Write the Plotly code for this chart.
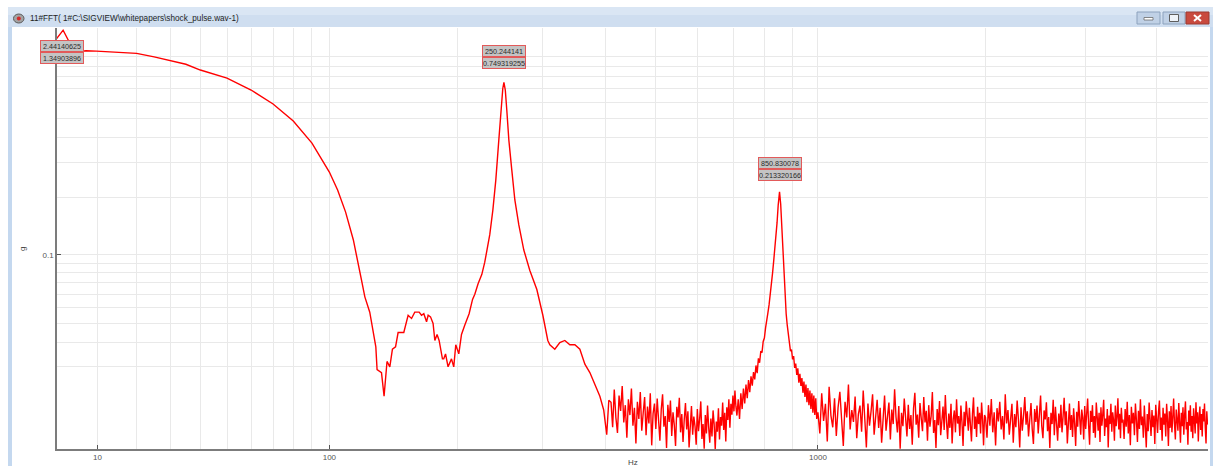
import numpy as np
import plotly.graph_objects as go

# ---------------- data ----------------
# FFT magnitude in g versus frequency in Hz
FREQ_LOW = [0, 2.44140625, 4.88, 7.32, 9.77,
            15, 20, 25, 30, 35, 40,
            50, 60, 70, 80, 90, 100,
            105, 110, 115,
            120.4, 122.7, 126.1, 128.4, 130.4, 131.3,
            134.5, 136.4, 138.6, 140.7, 142.7, 145.1,
            147.1, 149.7, 151.6, 155.1, 157.9, 160.6,
            164.3, 166.3, 168.3, 170.7, 172.1, 174.2,
            176.5, 178.1, 180.1, 182.0, 185.1, 186.3,
            188.0, 190.4, 193.7, 195.9, 197.9, 200.9,
            203.6, 206.9, 211.4, 215.0, 217.4, 220.9]
AMP_LOW = [1.13, 1.34903896, 1.05, 1.07, 1.066,
           1.052, 1.04, 1.0, 0.96, 0.92, 0.862,
           0.787, 0.688, 0.587, 0.484, 0.376, 0.269,
           0.218, 0.168, 0.12,
           0.0725, 0.058, 0.047, 0.036, 0.028, 0.019,
           0.018, 0.011, 0.022, 0.020, 0.027, 0.028,
           0.035, 0.035, 0.035, 0.045, 0.043, 0.047,
           0.047, 0.045, 0.046, 0.041, 0.045, 0.044,
           0.040, 0.031, 0.034, 0.031, 0.023, 0.023,
           0.025, 0.020, 0.023, 0.020, 0.029, 0.025,
           0.034, 0.039, 0.046, 0.056, 0.060, 0.069]

FREQ_PEAK1 = [225.0, 228.2, 233.8, 237.3, 240.7, 244.2, 246.6, 248.9, 250.244141,
              251.9, 253.7, 256.2, 259.8, 263.6, 268.6, 275.0, 282.9,
              292.3, 300.6, 304.8, 307.6, 310.5, 317.7, 325.1, 332.7,
              340.4, 348.3, 356.3, 364.5, 372.8, 381.3, 390.0, 396.8,
              402.2, 406.0]
AMP_PEAK1 = [0.078, 0.091, 0.128, 0.172, 0.245, 0.389, 0.548, 0.70, 0.749319255,
             0.688, 0.548, 0.389, 0.276, 0.194, 0.144, 0.106, 0.082,
             0.064, 0.045, 0.036, 0.031, 0.029, 0.027, 0.030, 0.031,
             0.029, 0.029, 0.027, 0.021, 0.018, 0.014, 0.011, 0.0077,
             0.0029, 0.010]

# noisy band 410 .. 707 Hz, one value every 3 Hz
NOISE1_START, NOISE1_STEP = 410.0, 3.0
AMP_NOISE1 = [
    0.0095, 0.0042, 0.0128, 0.0061, 0.0032, 0.0112, 0.0075, 0.0138, 0.0051, 0.0088,
    0.0024, 0.0102, 0.0066, 0.0131, 0.0045, 0.0082, 0.0015, 0.0096, 0.0058, 0.0121,
    0.0036, 0.0071, 0.0108, 0.0028, 0.0085, 0.0049, 0.0118, 0.0012, 0.0069, 0.0092,
    0.0039, 0.0104, 0.0055, 0.0019, 0.0078, 0.0115, 0.0043, 0.0064, 0.0008, 0.0089,
    0.0052, 0.0099, 0.0027, 0.0072, 0.0046, 0.0011, 0.0084, 0.0061, 0.0106, 0.0033,
    0.0068, 0.0017, 0.0057, 0.0093, 0.0038, 0.0074, 0.0009, 0.0051, 0.0086, 0.0029,
    0.0063, 0.0044, 0.0013, 0.0079, 0.0035, 0.0058, 0.0097, 0.0022, 0.0048, 0.0007,
    0.0066, 0.0031, 0.0087, 0.0042, 0.0016, 0.0059, 0.0026, 0.0076, 0.0048, 0.0006,
    0.0053, 0.0034, 0.0081, 0.0021, 0.0062, 0.0045, 0.0094, 0.0037, 0.0071, 0.0018,
    0.0083, 0.0056, 0.0102, 0.0041, 0.0091, 0.0067, 0.0112, 0.0074, 0.0125, 0.0085]

FREQ_PEAK2 = [710, 714, 718, 722, 726, 730, 734, 738, 742, 746,
              750, 754, 758, 762, 766, 770, 774, 778, 782, 786,
              790, 794, 798, 802, 806, 810, 814, 818, 822, 826,
              830, 834, 838, 842, 846, 850.830078, 855, 859, 863, 867,
              871, 875, 879, 883, 887, 891, 895, 899, 903, 907,
              911, 915, 919, 923, 927, 931, 935, 939, 943, 947,
              951, 955, 959, 963, 967, 971, 975, 979, 983, 987,
              991, 995]
AMP_PEAK2 = [0.0065, 0.0102, 0.0058, 0.0118, 0.0079, 0.0131, 0.0092, 0.0142, 0.0105, 0.0156,
             0.0121, 0.0168, 0.0139, 0.0182, 0.0158, 0.0205, 0.0178, 0.0232, 0.0215, 0.0262,
             0.0255, 0.0305, 0.0322, 0.0375, 0.041, 0.0465, 0.052, 0.059, 0.068, 0.079,
             0.092, 0.106, 0.124, 0.148, 0.182, 0.213320166, 0.185, 0.14, 0.102, 0.074,
             0.056, 0.046, 0.039, 0.033, 0.0305, 0.0262, 0.0268, 0.0228, 0.0241, 0.0196,
             0.0212, 0.0172, 0.0195, 0.0148, 0.0176, 0.0138, 0.0162, 0.0119, 0.0151, 0.0108,
             0.0142, 0.0095, 0.0132, 0.0088, 0.0125, 0.0079, 0.0118, 0.0071, 0.0112, 0.0066,
             0.0105, 0.0058]

# noisy band 1000 .. 1992 Hz, one value every 8 Hz
NOISE2_START, NOISE2_STEP = 1000.0, 8.0
AMP_NOISE2 = [
    0.0072, 0.0031, 0.0118, 0.0054, 0.0091, 0.0018, 0.0136, 0.0065, 0.0042, 0.0105,
    0.0027, 0.0083, 0.0122, 0.0049, 0.0011, 0.0096, 0.0061, 0.0142, 0.0038, 0.0077,
    0.0052, 0.0109, 0.0023, 0.0068, 0.0087, 0.0034, 0.0125, 0.0058, 0.0009, 0.0092,
    0.0045, 0.0074, 0.0115, 0.0029, 0.0063, 0.0101, 0.0041, 0.0082, 0.0016, 0.0069,
    0.0112, 0.0036, 0.0057, 0.0094, 0.0021, 0.0078, 0.0048, 0.0129, 0.0062, 0.0033,
    0.0086, 0.0007, 0.0071, 0.0044, 0.0104, 0.0055, 0.0026, 0.0089, 0.0039, 0.0066,
    0.0013, 0.0081, 0.0119, 0.0047, 0.0067, 0.0024, 0.0093, 0.0059, 0.0035, 0.0108,
    0.0051, 0.0075, 0.0019, 0.0088, 0.0043, 0.0064, 0.0121, 0.0032, 0.0056, 0.0008,
    0.0079, 0.0046, 0.0098, 0.0028, 0.0061, 0.0085, 0.0037, 0.0113, 0.0053, 0.0022,
    0.0069, 0.0041, 0.0091, 0.0015, 0.0058, 0.0076, 0.0033, 0.0102, 0.0049, 0.0064,
    0.0027, 0.0087, 0.0052, 0.0011, 0.0073, 0.0044, 0.0097, 0.0061, 0.0036, 0.0082,
    0.0055, 0.0018, 0.0069, 0.0107, 0.0039, 0.0063, 0.0025, 0.0084, 0.0048, 0.0071,
    0.0031, 0.0094, 0.0057, 0.0012, 0.0066]

# noisy band 2000 .. 3488 Hz, one value every 12 Hz
NOISE3_START, NOISE3_STEP = 2000.0, 12.0
AMP_NOISE3 = [
    0.0061, 0.0024, 0.0088, 0.0045, 0.0103, 0.0033, 0.0072, 0.0012, 0.0081, 0.0053,
    0.0096, 0.0038, 0.0064, 0.0021, 0.0115, 0.0049, 0.0077, 0.0029, 0.0058, 0.0091,
    0.0016, 0.0068, 0.0042, 0.0099, 0.0056, 0.0009, 0.0083, 0.0036, 0.0065, 0.0108,
    0.0047, 0.0074, 0.0026, 0.0059, 0.0093, 0.0039, 0.0014, 0.0079, 0.0052, 0.0087,
    0.0031, 0.0067, 0.0112, 0.0044, 0.0023, 0.0076, 0.0057, 0.0095, 0.0035, 0.0062,
    0.0008, 0.0071, 0.0048, 0.0101, 0.0028, 0.0084, 0.0055, 0.0019, 0.0069, 0.0041,
    0.0089, 0.0033, 0.0063, 0.0106, 0.0046, 0.0074, 0.0015, 0.0058, 0.0092, 0.0037,
    0.0066, 0.0025, 0.0081, 0.0049, 0.0011, 0.0073, 0.0043, 0.0098, 0.0054, 0.0029,
    0.0078, 0.0061, 0.0021, 0.0086, 0.0039, 0.0067, 0.0104, 0.0046, 0.0013, 0.0075,
    0.0052, 0.0088, 0.0032, 0.0064, 0.0024, 0.0094, 0.0057, 0.0036, 0.0071, 0.0017,
    0.0083, 0.0045, 0.0068, 0.0101, 0.0027, 0.0059, 0.0042, 0.0079, 0.0009, 0.0065,
    0.0048, 0.0091, 0.0034, 0.0072, 0.0056, 0.0019, 0.0087, 0.0044, 0.0063, 0.0105,
    0.0038, 0.0069, 0.0023, 0.0082, 0.0051]

# noisy band 3500 .. 4925 Hz, one value every 15 Hz
NOISE4_START, NOISE4_STEP = 3500.0, 15.0
AMP_NOISE4 = [
    0.0057, 0.0022, 0.0079, 0.0043, 0.0096, 0.0031, 0.0066, 0.0012, 0.0084, 0.0049,
    0.0071, 0.0028, 0.0092, 0.0055, 0.0017, 0.0075, 0.0039, 0.0102, 0.0046, 0.0063,
    0.0024, 0.0087, 0.0051, 0.0009, 0.0068, 0.0035, 0.0094, 0.0058, 0.0027, 0.0077,
    0.0042, 0.0065, 0.0014, 0.0089, 0.0053, 0.0032, 0.0073, 0.0099, 0.0037, 0.0061,
    0.0019, 0.0082, 0.0047, 0.0069, 0.0026, 0.0091, 0.0056, 0.0011, 0.0074, 0.0041,
    0.0086, 0.0033, 0.0062, 0.0104, 0.0048, 0.0021, 0.0078, 0.0054, 0.0036, 0.0093,
    0.0059, 0.0016, 0.0071, 0.0044, 0.0083, 0.0029, 0.0066, 0.0097, 0.0038, 0.0052,
    0.0013, 0.0076, 0.0045, 0.0088, 0.0034, 0.0064, 0.0023, 0.0081, 0.0057, 0.0031,
    0.0095, 0.0049, 0.0072, 0.0018, 0.0061, 0.0085, 0.0037, 0.0068, 0.0026, 0.0079,
    0.0053, 0.0092, 0.0041, 0.0015, 0.0074, 0.0047]

X_TICKS = [10, 100, 1000]
X_TICK_TEXT = ["10", "100", "1000"]
X_GRID = [20, 30, 40, 50, 60, 70, 80, 90, 200, 300, 400, 500, 600, 700, 800, 900, 2000, 3000, 4000]
Y_TICKS = [0.1]
Y_TICK_TEXT = ["0.1"]
Y_GRID = [0.02, 0.03, 0.04, 0.05, 0.06, 0.07, 0.08, 0.09, 0.2, 0.3, 0.4, 0.5, 0.6, 0.7, 0.8, 0.9, 1.0]

PEAK_FREQ = [2.44140625, 250.244141, 850.830078]
PEAK_AMP = [1.34903896, 0.749319255, 0.213320166]
PEAK_FREQ_TEXT = ["2.44140625", "250.244141", "850.830078"]
PEAK_AMP_TEXT = ["1.34903896", "0.749319255", "0.213320166"]

TITLE = "11#FFT( 1#C:\\SIGVIEW\\whitepapers\\shock_pulse.wav-1)"
X_LABEL = "Hz"
Y_LABEL = "g"

# SIGVIEW style offset-logarithmic axes: log(value + offset)
X_OFF = 49.0
Y_OFF = 0.0123


def bins(start, step, values):
    """frequency of each FFT bin of an evenly spaced block"""
    return list(start + step * np.arange(len(values)))


# ---------------- figure ----------------
W, H = 1213, 466
L, R, T, B = 57, 5, 28, 17
PW, PH = W - L - R, H - T - B


def px(xp):
    return (xp - L) / PW


def py(yp):
    return 1 - (yp - T) / PH


freq = np.array(FREQ_LOW + FREQ_PEAK1
                + bins(NOISE1_START, NOISE1_STEP, AMP_NOISE1)
                + FREQ_PEAK2
                + bins(NOISE2_START, NOISE2_STEP, AMP_NOISE2)
                + bins(NOISE3_START, NOISE3_STEP, AMP_NOISE3)
                + bins(NOISE4_START, NOISE4_STEP, AMP_NOISE4), dtype=float)
amp = np.array(AMP_LOW + AMP_PEAK1 + AMP_NOISE1 + AMP_PEAK2 + AMP_NOISE2 + AMP_NOISE3 + AMP_NOISE4,
               dtype=float)

fig = go.Figure()
fig.add_trace(go.Scatter(
    x=freq + X_OFF, y=amp + Y_OFF, mode="lines",
    line=dict(color="#ff0000", width=1.4),
    customdata=np.stack([freq, amp], axis=1),
    hovertemplate="%{customdata[0]:.2f} Hz<br>%{customdata[1]:.5f} g<extra></extra>",
    showlegend=False,
))

GRID = "#e9e9e9"
AXIS = "#7c7c7c"
TICKFONT = dict(family="Liberation Sans, Arial, sans-serif", size=8, color="#555555")

fig.update_layout(
    width=W, height=H,
    margin=dict(l=L, r=R, t=T, b=B, pad=0),
    paper_bgcolor="white", plot_bgcolor="white",
    xaxis=dict(
        type="log", range=[np.log10(1.2 + X_OFF), np.log10(4934 + X_OFF)],
        tickmode="array", tickvals=[v + X_OFF for v in X_TICKS], ticktext=X_TICK_TEXT,
        ticks="inside", ticklen=4, tickcolor="#555555", tickwidth=1,
        showline=True, linecolor=AXIS, linewidth=1.5,
        showgrid=True, gridcolor=GRID, gridwidth=1, zeroline=False,
        minor=dict(tickmode="array", tickvals=[v + X_OFF for v in X_GRID],
                   showgrid=True, gridcolor=GRID, gridwidth=1, ticks=""),
        tickfont=TICKFONT,
    ),
    yaxis=dict(
        type="log", range=[-1.8873, 0.1445],
        tickmode="array", tickvals=[v + Y_OFF for v in Y_TICKS], ticktext=Y_TICK_TEXT,
        ticks="inside", ticklen=4, tickcolor="#555555", tickwidth=1,
        showline=True, linecolor=AXIS, linewidth=1.5,
        showgrid=True, gridcolor=GRID, gridwidth=1, zeroline=False,
        minor=dict(tickmode="array", tickvals=[v + Y_OFF for v in Y_GRID],
                   showgrid=True, gridcolor=GRID, gridwidth=1, ticks=""),
        tickfont=TICKFONT,
    ),
)

shapes = []
annotations = []

# window chrome
shapes += [
    dict(type="rect", xref="paper", yref="paper", x0=px(8), x1=px(1213), y0=py(7), y1=py(27),
         fillcolor="#cfdef0", line=dict(width=0), layer="above"),
    dict(type="rect", xref="paper", yref="paper", x0=px(8), x1=px(1213), y0=py(7), y1=py(15),
         fillcolor="#dae6f4", line=dict(width=0), layer="above"),
    dict(type="rect", xref="paper", yref="paper", x0=px(8), x1=px(12), y0=py(27), y1=py(466),
         fillcolor="#c4d8ef", line=dict(width=0), layer="above"),
    dict(type="rect", xref="paper", yref="paper", x0=px(1210), x1=px(1213), y0=py(27), y1=py(466),
         fillcolor="#c4d8ef", line=dict(width=0), layer="above"),
    # icon
    dict(type="circle", xref="paper", yref="paper", x0=px(13.5), x1=px(24), y0=py(14), y1=py(23),
         fillcolor="#a3a3a3", line=dict(color="#5a5a5a", width=1), layer="above"),
    dict(type="circle", xref="paper", yref="paper", x0=px(16.8), x1=px(20.8), y0=py(16.5), y1=py(20.5),
         fillcolor="#d42a2a", line=dict(width=0), layer="above"),
    # minimise / maximise / close buttons
    dict(type="rect", xref="paper", yref="paper", x0=px(1137), x1=px(1160), y0=py(12), y1=py(24),
         fillcolor="#c0d1e6", line=dict(color="#8ca2bd", width=1), layer="above"),
    dict(type="rect", xref="paper", yref="paper", x0=px(1144), x1=px(1153), y0=py(17.5), y1=py(20),
         fillcolor="white", line=dict(color="#6b6b6b", width=0.8), layer="above"),
    dict(type="rect", xref="paper", yref="paper", x0=px(1163), x1=px(1185), y0=py(12), y1=py(24),
         fillcolor="#c0d1e6", line=dict(color="#8ca2bd", width=1), layer="above"),
    dict(type="rect", xref="paper", yref="paper", x0=px(1169.5), x1=px(1178.5), y0=py(14.5), y1=py(21.5),
         fillcolor="#eef3f9", line=dict(color="#5e5e5e", width=1), layer="above"),
    dict(type="rect", xref="paper", yref="paper", x0=px(1186), x1=px(1209), y0=py(12), y1=py(24),
         fillcolor="#c94a3f", line=dict(color="#9c3a32", width=1), layer="above"),
    dict(type="line", xref="paper", yref="paper", x0=px(1194), x1=px(1201), y0=py(15), y1=py(21),
         line=dict(color="white", width=2), layer="above"),
    dict(type="line", xref="paper", yref="paper", x0=px(1194), x1=px(1201), y0=py(21), y1=py(15),
         line=dict(color="white", width=2), layer="above"),
]

annotations += [
    dict(text=TITLE, xref="paper", yref="paper", x=px(28), y=py(19), xanchor="left", yanchor="middle",
         showarrow=False, font=dict(family="Liberation Sans, Arial, sans-serif", size=8.2, color="#1e1e1e")),
    dict(text=X_LABEL, xref="paper", yref="paper", x=px(633), y=py(462), xanchor="center", yanchor="middle",
         showarrow=False, font=dict(family="Liberation Sans, Arial, sans-serif", size=8, color="#444444")),
    dict(text=Y_LABEL, xref="paper", yref="paper", x=px(22), y=py(249), xanchor="center", yanchor="middle",
         textangle=-90, showarrow=False, font=dict(family="Liberation Sans, Arial, sans-serif", size=8, color="#444444")),
]

BOXFONT = dict(family="Liberation Sans, Arial, sans-serif", size=7.2, color="#2a2a2a")
BOX = dict(showarrow=False, bgcolor="#c4c4c4", bordercolor="#e25a5a", borderwidth=1, borderpad=0,
           width=42, height=10, font=BOXFONT, align="center")

for i, (f, a, ft, at) in enumerate(zip(PEAK_FREQ, PEAK_AMP, PEAK_FREQ_TEXT, PEAK_AMP_TEXT)):
    xl = np.log10(f + X_OFF)
    yl = np.log10(a + Y_OFF)
    if i == 0:
        annotations.append(dict(BOX, text=ft, x=xl, y=yl, xref="x", yref="y", xanchor="center",
                                yanchor="top", yshift=-9.5, xshift=-1))
        annotations.append(dict(BOX, text=at, x=xl, y=yl, xref="x", yref="y", xanchor="center",
                                yanchor="top", yshift=-21.5, xshift=-1))
    else:
        base = 13 if i == 1 else 11
        annotations.append(dict(BOX, text=at, x=xl, y=yl, xref="x", yref="y", xanchor="center",
                                yanchor="bottom", yshift=base))
        annotations.append(dict(BOX, text=ft, x=xl, y=yl, xref="x", yref="y", xanchor="center",
                                yanchor="bottom", yshift=base + 12))
        shapes.append(dict(type="line", xref="x", yref="y", xsizemode="scaled", ysizemode="pixel",
                           yanchor=yl, x0=xl, x1=xl, y0=3, y1=base,
                           line=dict(color="#8a8a8a", width=1, dash="dot")))

fig.update_layout(shapes=shapes, annotations=annotations)

fig.write_html("out.html", include_plotlyjs=True)
